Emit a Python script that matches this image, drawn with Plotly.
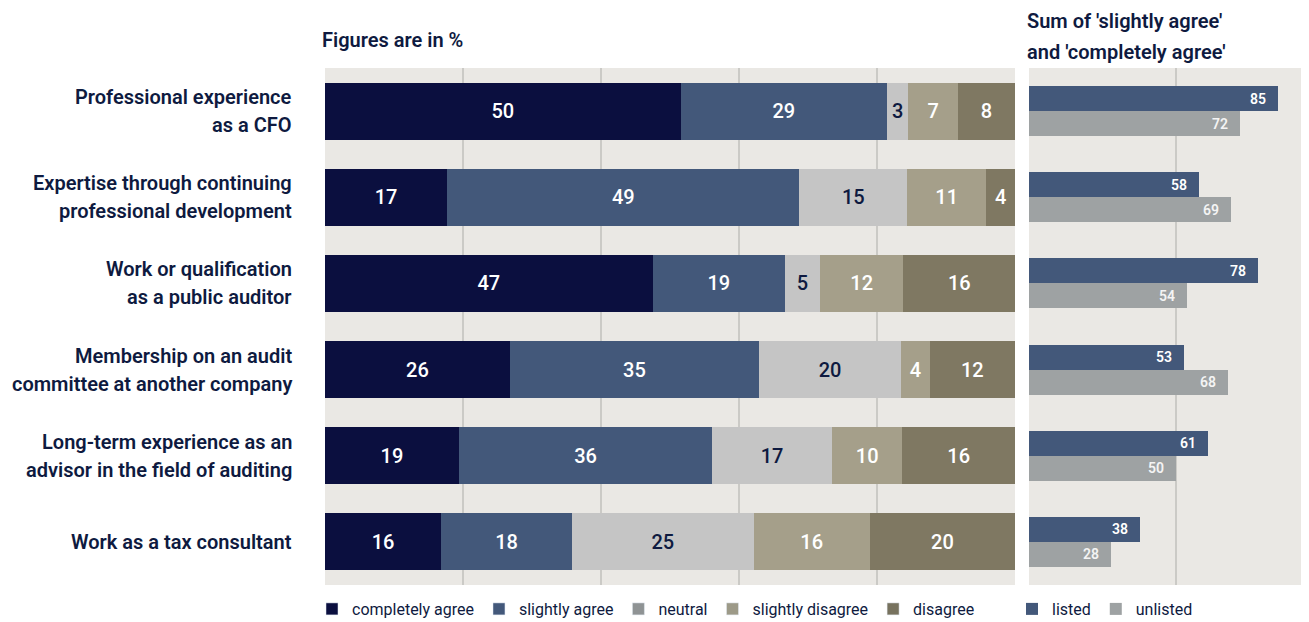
import plotly.graph_objects as go
import numpy as np

# ---- data ----
criteria = [
    "Professional experience<br>as a CFO",
    "Expertise through continuing<br>professional development",
    "Work or qualification<br>as a public auditor",
    "Membership on an audit<br>committee at another company",
    "Long-term experience as an<br>advisor in the field of auditing",
    "Work as a tax consultant",
]
completely_agree = [50, 17, 47, 26, 19, 16]
slightly_agree = [29, 49, 19, 35, 36, 18]
neutral = [3, 15, 5, 20, 17, 25]
slightly_disagree = [7, 11, 12, 4, 10, 16]
disagree = [8, 4, 16, 12, 16, 20]

listed = [85, 58, 78, 53, 61, 38]
unlisted = [72, 69, 54, 68, 50, 28]

# page has an 8px body margin, so the figure is offset by 8px
OFF = 8
W, H = 1309 - OFF, 622 - OFF


def px(x):
    return (x - OFF) / W


def py(y):
    return 1 - (y - OFF) / H


NAVY = "#0e1a40"
BG = "#eae8e4"
GRID = "#cbcac6"
FONT = "Roboto"

answers = [
    ("completely agree", completely_agree, "#0b0f3f", "#0b0f3f", "white"),
    ("slightly agree", slightly_agree, "#43587a", "#43587a", "white"),
    ("neutral", neutral, "#c5c5c5", "#8f9394", NAVY),
    ("slightly disagree", slightly_disagree, "#a59f8a", "#9d9a88", "white"),
    ("disagree", disagree, "#7f7862", "#77725e", "white"),
]

pos = np.arange(len(criteria))
totals = np.sum([a[1] for a in answers], axis=0)

fig = go.Figure()

for name, vals, col, legcol, txtcol in answers:
    share = np.array(vals) / totals * 100
    fig.add_trace(go.Bar(
        y=pos, x=share, orientation="h", width=0.66,
        marker=dict(color=col, line=dict(width=0)),
        text=[str(v) for v in vals], textposition="inside",
        insidetextanchor="middle", textangle=0,
        textfont=dict(family=FONT, size=20, color=txtcol, weight=500),
        showlegend=False, hoverinfo="skip",
        xaxis="x", yaxis="y",
    ))
    # legend entry (legend swatches use slightly different tones)
    fig.add_trace(go.Bar(
        y=[None], x=[None], orientation="h", name=name,
        marker=dict(color=legcol), legend="legend",
        xaxis="x", yaxis="y",
    ))

groups = [("listed", listed, -0.145, "#43587a", "white"),
          ("unlisted", unlisted, 0.145, "#9ea2a3", "#f4f4f4")]
for name, vals, off, col, txtcol in groups:
    fig.add_trace(go.Bar(
        y=pos + off, x=vals, orientation="h", width=0.29, name=name,
        marker=dict(color=col, line=dict(width=0)),
        legend="legend2", hoverinfo="skip", xaxis="x2", yaxis="y2",
    ))
    for i, v in enumerate(vals):
        fig.add_annotation(
            x=v, y=pos[i] + off, xref="x2", yref="y2", text=str(v),
            showarrow=False, xanchor="right", yanchor="middle", xshift=-10,
            font=dict(family=FONT, size=14, color=txtcol, weight=600),
        )

# row labels
for i, lab in enumerate(criteria):
    lines = lab.split("<br>")
    n = len(lines)
    for j, ln in enumerate(lines):
        fig.add_annotation(
            x=px(294), xref="paper", y=pos[i], yref="y",
            text=ln, showarrow=False, xanchor="right", yanchor="middle",
            yshift=(n - 1) * 14 - j * 28,
            font=dict(family=FONT, size=20, color=NAVY, weight=600),
        )

fig.add_annotation(x=px(320), y=py(40), xref="paper", yref="paper",
                   text="Figures are in %", showarrow=False,
                   xanchor="left", yanchor="middle",
                   font=dict(family=FONT, size=20, color=NAVY, weight=600))
for k, t in enumerate(["Sum of 'slightly agree'", "and 'completely agree'"]):
    fig.add_annotation(x=px(1025), y=py(21 + 31 * k), xref="paper", yref="paper",
                       text=t, showarrow=False, xanchor="left", yanchor="middle",
                       font=dict(family=FONT, size=20, color=NAVY, weight=600))

ydom = [py(585), py(68)]
fig.update_layout(
    width=W, height=H,
    margin=dict(l=0, r=0, t=0, b=0, autoexpand=False),
    paper_bgcolor="white", plot_bgcolor=BG,
    barmode="stack",
    font=dict(family=FONT, color=NAVY),
    xaxis=dict(domain=[px(325), px(1015)], range=[0, 100], tickvals=[0, 20, 40, 60, 80, 100],
               showticklabels=False, showgrid=True, gridcolor=GRID, gridwidth=1.5,
               zeroline=False, fixedrange=True),
    yaxis=dict(domain=ydom, range=[5.5, -0.5], showticklabels=False, showgrid=False,
               zeroline=False),
    xaxis2=dict(domain=[px(1029), 1], range=[0, 95.5], tickvals=[0, 50],
                showticklabels=False, showgrid=True, gridcolor=GRID, gridwidth=1.5,
                zeroline=False, anchor="y2"),
    yaxis2=dict(domain=ydom, range=[5.5, -0.5], showticklabels=False, showgrid=False,
                zeroline=False, anchor="x2"),
    legend=dict(orientation="h", x=px(312), y=py(609), xanchor="left", yanchor="middle",
                font=dict(family=FONT, size=16, color=NAVY), bgcolor="rgba(0,0,0,0)",
                traceorder="normal"),
    legend2=dict(orientation="h", x=px(1012), y=py(609), xanchor="left", yanchor="middle",
                 font=dict(family=FONT, size=16, color=NAVY), bgcolor="rgba(0,0,0,0)",
                 traceorder="normal"),
)

fig.write_html("out.html")
